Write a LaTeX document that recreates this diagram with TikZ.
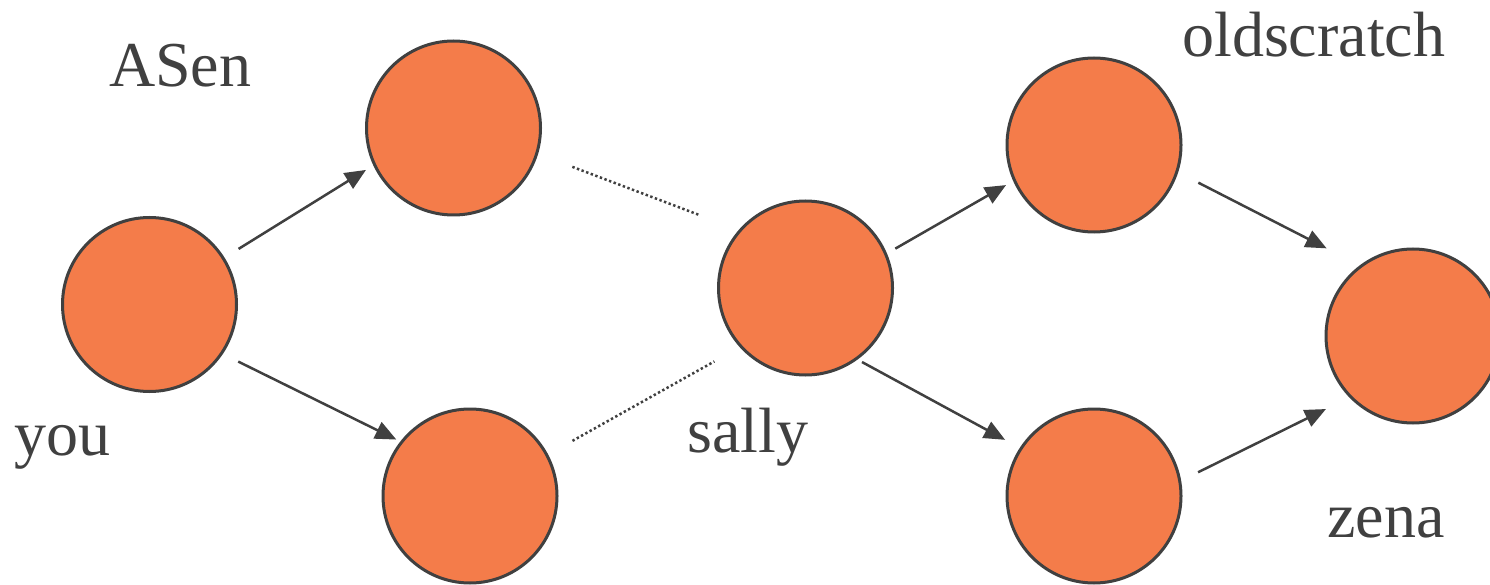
\documentclass[tikz,border=0pt]{standalone}
\usepackage{fontspec}
\setmainfont{Liberation Serif}
\usetikzlibrary{arrows.meta}
\definecolor{ink}{HTML}{404040}
\definecolor{peer}{HTML}{F47C4A}
\begin{document}
\begin{tikzpicture}[x=1pt,y=-1pt,
  person/.style={circle, minimum size=174pt, inner sep=0pt, line width=3pt, draw=ink, fill=peer},
  label/.style={anchor=base west, inner sep=0pt, text=ink, font=\fontsize{64}{64}\selectfont},
  link/.style={draw=ink, line width=2.5pt, -{Triangle[length=21pt,width=18pt]}},
  weak/.style={draw=ink, line width=2.5pt, dash pattern=on 2.4pt off 2.5pt}]
  \useasboundingbox (0,0) rectangle (1490,585);

  % people
  \node[person] (you)  at (149.5,304.5) {};
  \node[person] (asen) at (453.5,128) {};
  \node[person] (mid)  at (470,496) {};
  \node[person] (sally) at (805.5,288) {};
  \node[person] (old)  at (1094,145) {};
  \node[person] (low)  at (1094,496) {};
  \node[person] (zena) at (1413,336) {};

  % names
  \node[label] (tasen) at (109,86.5) {ASen};
  \node[label] (tyou)  at (14,455) {you};
  \node[label] (tsally) at (687,452) {sally};
  \node[label] (told)  at (1182,57) {oldscratch};
  \node[label] (tzena) at (1327,537) {zena};

  % direct links
  \draw[link, shorten <=16.5pt, shorten >=8.6pt] (you.32.8) -- (asen.205.1);
  \draw[link, shorten <=17.2pt, shorten >=4.4pt] (you.-34.3) -- (mid.142.3);
  \draw[link, shorten <=9.6pt, shorten >=8.2pt] (sally.23.5) -- (old.204);
  \draw[link, shorten <=5.1pt, shorten >=16.7pt] (sally.-54) -- (low.147.1);
  \draw[link, shorten <=22.7pt, shorten >=37.2pt] (old.-18.9) -- (zena.127.6);
  \draw[link, shorten <=18.9pt, shorten >=26.1pt] (low.10.2) -- (zena.224);

  % indirect links
  \draw[weak, shorten <=36.6pt, shorten >=41.7pt] (asen.-17.8) -- (sally.139.7);
  \draw[weak, shorten <=27.9pt, shorten >=29.1pt] (mid.28.8) -- (sally.222.8);
\end{tikzpicture}
\end{document}
